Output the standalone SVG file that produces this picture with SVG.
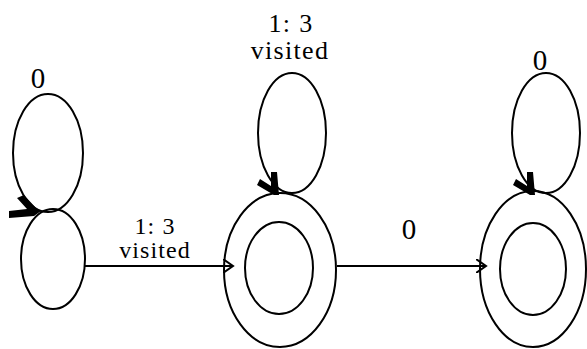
<svg xmlns="http://www.w3.org/2000/svg" width="587" height="349" viewBox="0 0 587 349">
<style>
.st{fill:none;stroke:#000;stroke-width:2}
.ah{fill:#000;stroke:none}
.t{font-family:"Liberation Serif","Times New Roman",serif;fill:#000;text-anchor:middle}
.z{font-size:29px}
.l{font-size:26px;letter-spacing:1.3px}
.e{font-size:24px;letter-spacing:1.1px}
</style>
<defs>
<marker id="open" markerWidth="12" markerHeight="14" refX="10" refY="7" orient="auto" markerUnits="userSpaceOnUse">
<path d="M0,0 L10,7 L0,14" fill="none" stroke="#000" stroke-width="2"/>
</marker>
</defs>
<g id="connectors">
<line class="st" x1="85" y1="266" x2="233" y2="266" marker-end="url(#open)"/>
<text class="t e"><tspan x="155" y="234">1: 3</tspan><tspan x="155" y="258">visited</tspan></text>
<line class="st" x1="337" y1="266" x2="486" y2="266" marker-end="url(#open)"/>
<text class="t z" x="409" y="239">0</text>
<ellipse class="st" cx="48" cy="153" rx="35" ry="59"/>
<polygon class="ah" points="17,198 24,195 36,208 41,211 34,216 9,218 9,211 27,209"/>
<text class="t z" x="38" y="88">0</text>
<ellipse class="st" cx="292" cy="133" rx="34" ry="60"/>
<polygon class="ah" points="271,172 277,172 279,195 274,195 257,185 260,179 271,186"/>
<text class="t l"><tspan x="291" y="32">1: 3</tspan><tspan x="290" y="59">visited</tspan></text>
<ellipse class="st" cx="546" cy="133" rx="34" ry="60"/>
<polygon class="ah" points="527,172 533,172 535,195 530,195 513,185 516,179 527,186"/>
<text class="t z" x="540" y="70">0</text>
</g>
<g id="q0">
<ellipse class="st" cx="53" cy="259" rx="32" ry="50"/>
</g>
<g id="q1">
<ellipse class="st" cx="280" cy="270" rx="56" ry="77"/>
<ellipse class="st" cx="279" cy="268" rx="34" ry="46"/>
</g>
<g id="q2">
<ellipse class="st" cx="533" cy="269" rx="53" ry="78"/>
<ellipse class="st" cx="533" cy="269" rx="33" ry="46"/>
</g>
</svg>
